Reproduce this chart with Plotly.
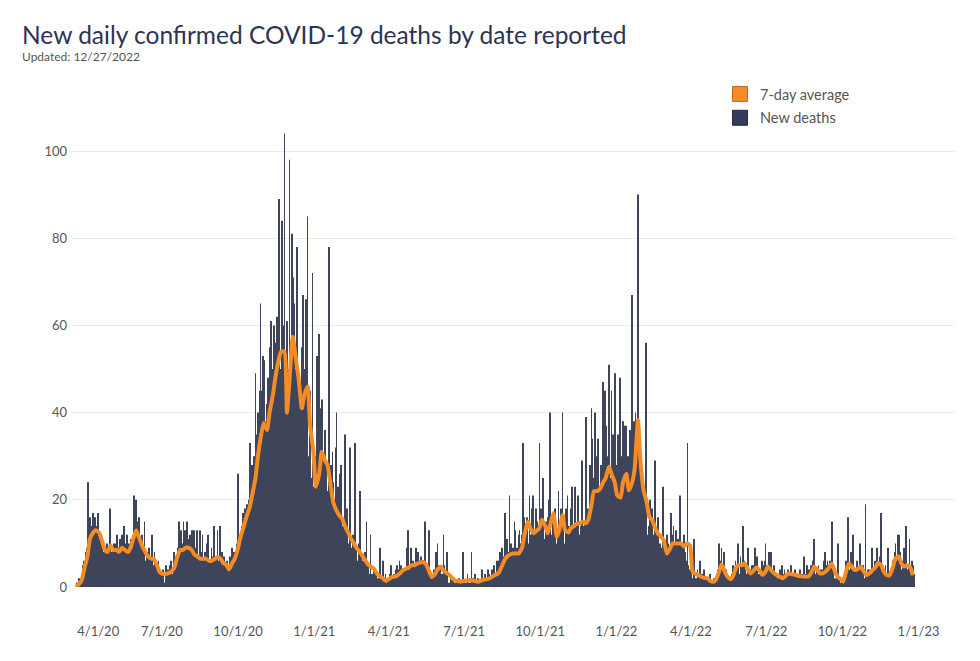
import datetime as dt
import plotly.graph_objects as go

# ---------------- data ----------------
start_date = "2020-03-18"   # first reported day shown

# New deaths per day, one row per week (starting Wednesday 3/18/2020)
new_deaths_weeks = [
    [0, 0, 1, 0, 1, 2, 1],
    [2, 3, 5, 4, 6, 5, 8],
    [9, 12, 24, 8, 16, 14, 10],
    [15, 17, 13, 16, 10, 12, 14],
    [17, 11, 9, 12, 8, 10, 8],
    [8, 6, 9, 7, 10, 5, 9],
    [18, 9, 7, 8, 6, 10, 9],
    [10, 8, 12, 9, 7, 11, 6],
    [9, 12, 8, 14, 7, 6, 10],
    [12, 8, 10, 6, 9, 11, 7],
    [9, 21, 11, 14, 20, 15, 12],
    [16, 8, 10, 6, 12, 7, 9],
    [15, 6, 5, 8, 4, 9, 5],
    [6, 7, 12, 5, 4, 8, 6],
    [3, 5, 2, 6, 1, 4, 3],
    [2, 4, 3, 1, 0, 5, 3],
    [4, 2, 5, 3, 6, 2, 3],
    [5, 8, 4, 7, 3, 9, 6],
    [15, 8, 13, 6, 10, 15, 7],
    [13, 9, 15, 6, 11, 8, 12],
    [10, 13, 5, 8, 13, 4, 9],
    [13, 6, 7, 4, 13, 5, 8],
    [12, 5, 6, 8, 4, 10, 6],
    [12, 4, 6, 5, 9, 3, 7],
    [14, 5, 7, 4, 13, 6, 3],
    [14, 6, 4, 8, 5, 7, 3],
    [5, 2, 6, 3, 4, 7, 2],
    [6, 9, 5, 8, 4, 7, 10],
    [8, 26, 10, 12, 9, 14, 11],
    [17, 13, 18, 12, 16, 19, 15],
    [20, 33, 25, 22, 28, 18, 30],
    [28, 49, 35, 30, 40, 38, 45],
    [65, 45, 35, 53, 30, 52, 38],
    [35, 42, 48, 30, 55, 50, 61],
    [45, 50, 60, 38, 56, 48, 62],
    [40, 89, 35, 50, 45, 84, 60],
    [30, 104, 45, 38, 61, 25, 50],
    [98, 45, 50, 81, 40, 71, 65],
    [50, 30, 78, 48, 41, 20, 45],
    [40, 55, 67, 28, 45, 50, 66],
    [38, 85, 30, 15, 45, 20, 25],
    [72, 10, 23, 30, 15, 53, 23],
    [30, 58, 25, 41, 43, 28, 30],
    [26, 36, 28, 15, 22, 18, 78],
    [26, 28, 15, 31, 24, 20, 12],
    [32, 40, 18, 23, 8, 26, 28],
    [20, 10, 14, 12, 35, 12, 6],
    [18, 8, 10, 32, 6, 9, 7],
    [12, 5, 33, 9, 3, 6, 4],
    [10, 22, 4, 7, 2, 6, 3],
    [8, 3, 15, 2, 5, 1, 3],
    [12, 2, 3, 1, 4, 0, 2],
    [3, 1, 2, 0, 9, 1, 2],
    [2, 6, 2, 1, 3, 0, 1],
    [2, 2, 3, 1, 5, 2, 1],
    [3, 3, 4, 2, 5, 1, 4],
    [6, 2, 5, 3, 4, 2, 3],
    [4, 3, 9, 13, 5, 1, 4],
    [9, 4, 6, 2, 5, 3, 9],
    [5, 8, 3, 6, 4, 7, 2],
    [6, 4, 6, 15, 5, 2, 4],
    [3, 13, 2, 0, 3, 1, 2],
    [4, 3, 8, 2, 10, 1, 5],
    [5, 2, 3, 1, 12, 5, 3],
    [3, 8, 2, 0, 1, 0, 2],
    [1, 0, 2, 0, 1, 0, 1],
    [1, 0, 2, 0, 1, 0, 1],
    [8, 1, 0, 1, 0, 3, 1],
    [1, 0, 1, 8, 0, 2, 1],
    [3, 0, 1, 0, 2, 1, 1],
    [1, 0, 4, 2, 0, 3, 1],
    [2, 1, 4, 3, 0, 2, 3],
    [4, 3, 5, 1, 3, 2, 6],
    [6, 4, 8, 3, 5, 9, 7],
    [5, 17, 8, 3, 11, 6, 8],
    [21, 6, 10, 4, 9, 7, 15],
    [13, 6, 9, 4, 12, 13, 10],
    [10, 12, 33, 8, 16, 12, 14],
    [16, 8, 10, 21, 12, 7, 18],
    [21, 9, 12, 8, 18, 15, 11],
    [14, 33, 10, 18, 12, 25, 12],
    [11, 8, 15, 10, 16, 18, 20],
    [40, 12, 9, 16, 6, 10, 18],
    [10, 7, 12, 22, 9, 14, 18],
    [12, 40, 15, 10, 6, 18, 8],
    [21, 9, 14, 5, 18, 23, 10],
    [12, 14, 23, 8, 14, 10, 21],
    [12, 10, 14, 29, 20, 12, 14],
    [15, 39, 10, 14, 18, 16, 28],
    [20, 41, 34, 20, 25, 40, 30],
    [15, 18, 34, 12, 22, 28, 20],
    [25, 47, 30, 45, 22, 37, 30],
    [20, 51, 25, 14, 45, 30, 35],
    [22, 49, 18, 25, 28, 35, 20],
    [48, 45, 19, 30, 38, 32, 37],
    [22, 37, 18, 30, 28, 36, 22],
    [30, 67, 38, 25, 38, 40, 28],
    [36, 90, 20, 30, 10, 28, 18],
    [25, 15, 20, 8, 56, 12, 10],
    [14, 12, 20, 6, 18, 9, 12],
    [10, 29, 12, 5, 16, 15, 9],
    [10, 7, 9, 23, 8, 5, 10],
    [6, 12, 8, 10, 9, 4, 17],
    [12, 8, 14, 6, 10, 13, 9],
    [11, 8, 10, 21, 6, 10, 5],
    [4, 12, 8, 6, 3, 33, 5],
    [4, 3, 8, 2, 1, 4, 11],
    [2, 1, 2, 4, 0, 3, 6],
    [2, 3, 1, 0, 4, 1, 2],
    [1, 0, 2, 1, 3, 0, 1],
    [1, 0, 2, 1, 0, 3, 4],
    [2, 10, 4, 6, 9, 5, 3],
    [8, 3, 2, 4, 1, 2, 1],
    [2, 0, 3, 1, 5, 2, 4],
    [6, 4, 5, 10, 3, 2, 7],
    [5, 4, 14, 6, 2, 4, 3],
    [3, 9, 1, 3, 2, 4, 5],
    [5, 2, 9, 3, 4, 7, 3],
    [3, 2, 4, 1, 6, 5, 2],
    [6, 10, 3, 5, 2, 8, 4],
    [4, 8, 3, 1, 5, 2, 3],
    [3, 1, 2, 0, 3, 4, 1],
    [5, 2, 3, 4, 1, 3, 2],
    [4, 2, 3, 1, 5, 2, 3],
    [3, 1, 4, 2, 3, 1, 2],
    [2, 4, 1, 3, 2, 1, 7],
    [3, 2, 5, 3, 1, 4, 2],
    [5, 3, 6, 2, 11, 1, 3],
    [4, 2, 5, 3, 4, 2, 4],
    [3, 6, 4, 8, 5, 3, 6],
    [4, 5, 6, 2, 15, 3, 4],
    [2, 1, 2, 0, 3, 10, 2],
    [1, 0, 2, 1, 0, 2, 1],
    [6, 3, 5, 16, 2, 4, 8],
    [5, 3, 12, 2, 4, 1, 5],
    [6, 4, 3, 10, 2, 5, 3],
    [5, 2, 1, 19, 3, 2, 4],
    [4, 3, 2, 5, 9, 3, 4],
    [6, 4, 5, 9, 5, 3, 7],
    [6, 17, 4, 2, 3, 2, 5],
    [3, 1, 9, 2, 3, 3, 2],
    [4, 6, 5, 8, 10, 4, 6],
    [12, 12, 5, 8, 4, 3, 6],
    [9, 3, 5, 14, 4, 1, 5],
    [11, 4, 3, 6, 2, 5, 3],
]

# 7-day average, two readings per week
# (on day 1 and day 4 of each week above)
avg_week_readings = [
    [0, 0.5], [1.5, 4], [7, 11], [12.5, 13], [12.5, 11], [8.5, 8], [9.5, 8.5],
    [8.5, 8], [9, 8.5], [8, 9], [11.5, 13], [11, 9.5], [8, 7], [6.5, 6.5],
    [5, 3.5], [3, 3], [3.2, 3.5], [4.5, 6.5], [8.5, 8.5], [9, 9], [8.5, 7.5],
    [7, 6.5], [6.5, 6.5], [6, 6], [6.5, 6.8], [6.5, 5.5], [5, 4], [5.5, 6.5],
    [9, 11.5], [14, 16], [18.3, 21], [25, 30], [35, 37.6], [36, 40], [44, 48],
    [52, 54], [54, 40], [50, 57.4], [52, 48], [41, 44], [46, 37], [31, 23],
    [26, 31], [29, 28], [23, 19.4], [17.5, 16.5], [15.6, 14], [12.5, 11.2],
    [10, 9], [8, 7.2], [6, 5.2], [4.6, 4.2], [3, 2.5], [2, 1.5], [1.8, 2.2],
    [2.4, 2.6], [3.2, 3.8], [4.2, 4.5], [5, 5], [5.4, 5.6], [5.7, 5.2],
    [3.5, 2.3], [3, 4], [4.7, 3.8], [3.2, 2.8], [2, 1.5], [1.3, 1.2],
    [1.4, 1.5], [1.6, 1.5], [1.3, 1.2], [1.5, 1.7], [1.8, 2], [2.5, 2.8],
    [3.3, 4.5], [6.2, 7], [7.5, 7.7], [7.7, 7.7], [9, 12], [15, 13.5],
    [12.3, 12.8], [13.5, 15.4], [14, 12.3], [15, 17], [11.5, 13], [16.5, 13],
    [12.5, 13.5], [14, 14.5], [14.6, 15], [14.6, 15.4], [19, 22], [22, 22.5],
    [24, 25], [27.6, 26], [24, 21], [20.5, 24], [26, 22.2], [24, 27],
    [38.3, 29], [22, 20], [16, 15.4], [13.5, 12.3], [11.5, 10.8], [7.7, 8.5],
    [10, 10], [10, 10], [9.3, 10], [9.5, 3.5], [3, 2.7], [2.3, 2.1], [2, 1.5],
    [1.2, 1.6], [3.5, 5.2], [3.5, 2.4], [1.8, 2.5], [4.7, 5], [5, 5.4],
    [4, 3.1], [3.8, 4.5], [3.8, 2.8], [3.5, 4.7], [3.8, 3.2], [2.7, 2.4],
    [2, 2.5], [3.1, 3], [2.8, 2.7], [2.5, 2.4], [2.4, 2.4], [3.5, 4.7],
    [3.8, 3.1], [3.2, 3.6], [4.5, 5.4], [3.5, 2.4], [1.8, 1.2], [4, 5.4],
    [4.5, 3.9], [4.2, 4.7], [3.5, 2.7], [3.2, 3.8], [4.5, 5.5], [5, 3.5],
    [2.7, 2.7], [4.5, 6.5], [7, 5.5], [4.7, 5], [4.5, 2.7],
]
avg_offsets = [1, 4]

tick_dates = ["2020-04-01", "2020-07-01", "2020-10-01", "2021-01-01", "2021-04-01",
              "2021-07-01", "2021-10-01", "2022-01-01", "2022-04-01", "2022-07-01",
              "2022-10-01", "2023-01-01"]
tick_labels = ["4/1/20", "7/1/20", "10/1/20", "1/1/21", "4/1/21", "7/1/21",
               "10/1/21", "1/1/22", "4/1/22", "7/1/22", "10/1/22", "1/1/23"]
y_ticks = [0, 20, 40, 60, 80, 100]

# ---------------- build ----------------
d0 = dt.date.fromisoformat(start_date)
bar_x, bar_y = [], []
for w, week in enumerate(new_deaths_weeks):
    for d, v in enumerate(week):
        bar_x.append(d0 + dt.timedelta(days=7 * w + d))
        bar_y.append(v)

avg_x, avg_y = [], []
for w, pair in enumerate(avg_week_readings):
    for off, v in zip(avg_offsets, pair):
        avg_x.append(d0 + dt.timedelta(days=7 * w + off))
        avg_y.append(v)

# first label sits flush with the chart's left edge in the original
shown_labels = ["\u00a0" * 7 + tick_labels[0]] + tick_labels[1:]

NAVY = "#3e4459"
ORANGE = "#f58b25"
FONT = "Lato"

fig = go.Figure()
fig.add_trace(go.Bar(x=bar_x, y=bar_y, marker=dict(color=NAVY, line=dict(width=0)),
                     showlegend=False, name="New deaths"))
fig.add_trace(go.Scatter(x=avg_x, y=avg_y, mode="lines",
                         line=dict(color=ORANGE, width=4, shape="spline", smoothing=0.5),
                         showlegend=False, name="7-day average"))
# legend swatches
fig.add_trace(go.Scatter(x=[None], y=[None], mode="markers", name="7-day average",
                         legendgroup="a",
                         marker=dict(symbol="square", size=15, color=ORANGE,
                                     line=dict(color="#b86a22", width=1))))
fig.add_trace(go.Scatter(x=[None], y=[None], mode="markers", name="New deaths",
                         legendgroup="b",
                         marker=dict(symbol="square", size=15, color="#353b58",
                                     line=dict(color="#262b40", width=1))))

# the page adds an 8px body margin, so the figure is drawn 8px in from the window
FW, FH = 964, 645
L, R, T, B = 64, 947, 112, 579
W, H = R - L, B - T

def px_x(p):
    return (p - L) / W

def px_y(p):
    return (B - p) / H

fig.update_layout(
    width=FW, height=FH,
    margin=dict(l=L, r=FW - R, t=T, b=FH - B, pad=0, autoexpand=False),
    paper_bgcolor="white", plot_bgcolor="white",
    font=dict(family=FONT, color="#555555", size=13),
    bargap=0.1,
    showlegend=True,
    legend=dict(x=px_x(712), y=px_y(70), xanchor="left", yanchor="top",
                font=dict(family=FONT, size=14.5, color="#555555"),
                bgcolor="rgba(0,0,0,0)", tracegroupgap=2, itemwidth=30),
    xaxis=dict(type="date", range=["2020-03-14 09:00", "2023-02-14 00:00"],
               tickvals=tick_dates, ticktext=shown_labels, showgrid=False,
               showline=False, zeroline=False, ticks="",
               ticklabelstandoff=35,
               tickfont=dict(family=FONT, size=13, color="#555555")),
    yaxis=dict(range=[0, (B - T) / 4.36], tickvals=y_ticks, showgrid=True,
               gridcolor="#ececec", gridwidth=1, zeroline=False, showline=False,
               ticks="", ticklabelstandoff=4,
               tickfont=dict(family=FONT, size=13, color="#555555")),
    annotations=[
        dict(text="New daily confirmed COVID-19 deaths by date reported",
             xref="paper", yref="paper", x=px_x(12), y=px_y(27),
             xanchor="left", yanchor="middle", showarrow=False,
             font=dict(family=FONT, size=24.5, color="#2d3452")),
        dict(text="Updated: 12/27/2022",
             xref="paper", yref="paper", x=px_x(12), y=px_y(48),
             xanchor="left", yanchor="middle", showarrow=False,
             font=dict(family=FONT, size=12, color="#555555")),
    ],
)

fig.write_html("out.html")
